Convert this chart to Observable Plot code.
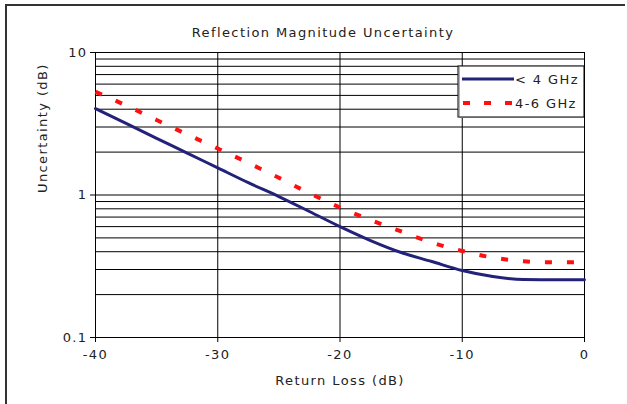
<!DOCTYPE html>
<html>
<head>
<meta charset="utf-8">
<script src="https://cdn.jsdelivr.net/npm/d3@7"></script>
<script src="https://cdn.jsdelivr.net/npm/@observablehq/plot@0.6"></script>
<style>
  html, body { margin: 0; padding: 0; background: #fff; }
  #wrap { position: relative; width: 627px; height: 404px; overflow: hidden; }
  #border { position: absolute; left: 5px; top: 4px; width: 620px; height: 420px;
            border-top: 2px solid #333; border-left: 2px solid #333; box-sizing: border-box; pointer-events: none; }
  #wrap svg text { letter-spacing: 1.4px; }
</style>
</head>
<body>
<div id="wrap"><div id="border"></div></div>
<script>
const returnLoss = [-40, -37.5, -35, -32.5, -30, -27.5, -25, -22.5, -20, -17.5, -15, -12.5, -10, -7.5, -5, -2.5, 0];
const below4GHz = [4.04, 3.18, 2.50, 1.97, 1.55, 1.22, 0.975, 0.766, 0.60, 0.479, 0.395, 0.3415, 0.2953, 0.268, 0.2553, 0.2545, 0.2541];
const band4to6GHz = [5.3, 4.25, 3.36, 2.66, 2.12, 1.68, 1.32, 1.03, 0.817, 0.668, 0.555, 0.464, 0.405, 0.364, 0.343, 0.337, 0.337];
const seriesNames = ["< 4 GHz", "4-6 GHz"];
const xTicks = [-40, -30, -20, -10, 0];
const yTicks = [0.1, 1, 10];
const yGrid = [0.1,0.2,0.3,0.4,0.5,0.6,0.7,0.8,0.9,1,2,3,4,5,6,7,8,9,10];
const titleText = "Reflection Magnitude Uncertainty";
const xLabel = "Return Loss (dB)";
const yLabel = "Uncertainty (dB)";

const blueData = returnLoss.map((x, i) => ({x, y: below4GHz[i]}));
const redData = returnLoss.map((x, i) => ({x, y: band4to6GHz[i]}));

const FONT = "DejaVu Sans, Verdana, sans-serif";
const BLUE = "#22227a";
const RED = "#ff1010";

const chart = Plot.plot({
  width: 627,
  height: 404,
  marginLeft: 95,
  marginRight: 43,
  marginTop: 52,
  marginBottom: 67,
  style: {fontFamily: FONT, fontSize: "13px", color: "#222", background: "transparent", overflow: "visible"},
  x: {domain: [-40, 0]},
  y: {type: "log", domain: [0.1, 10]},
  marks: [
    Plot.gridY(yGrid, {stroke: "#000", strokeOpacity: 1, strokeWidth: 1}),
    Plot.gridX(xTicks, {stroke: "#000", strokeOpacity: 1, strokeWidth: 1}),
    Plot.frame({stroke: "#000", strokeWidth: 1}),
    Plot.axisX(xTicks, {tickSize: 5, tickPadding: 7, stroke: "#000", fill: "#222", fontSize: 13, tickFormat: d => String(d), label: null}),
    Plot.axisY(yTicks, {tickSize: 5, tickPadding: 3, stroke: "#000", fill: "#222", fontSize: 13, tickFormat: d => String(d), label: null}),
    Plot.line(blueData, {x: "x", y: "y", stroke: BLUE, strokeWidth: 3, curve: "monotone-x"}),
    Plot.line(redData, {x: "x", y: "y", stroke: RED, strokeWidth: 4, strokeDasharray: "7,15", strokeLinecap: "butt", curve: "monotone-x"}),
    Plot.text([titleText], {frameAnchor: "top", lineAnchor: "middle", dx: -17, dy: -20, fontSize: 13, fill: "#222"}),
    Plot.text([xLabel], {frameAnchor: "bottom", lineAnchor: "middle", dy: 43, fontSize: 13, fill: "#222"}),
    Plot.text([yLabel], {frameAnchor: "left", lineAnchor: "middle", dx: -53, dy: -2, rotate: -90, fontSize: 13, fill: "#222"})
  ]
});
document.getElementById("wrap").insertBefore(chart, document.getElementById("border"));

// legend
const svg = d3.select(chart);
const lg = svg.append("g").attr("font-family", FONT).attr("font-size", 13).attr("fill", "#222").attr("text-anchor", "start");
lg.append("rect").attr("x", 458).attr("y", 66).attr("width", 126).attr("height", 51)
  .attr("fill", "#fff").attr("stroke", "#000").attr("stroke-width", 1);
lg.append("line").attr("x1", 459).attr("x2", 459).attr("y1", 67).attr("y2", 117).attr("stroke", "#666").attr("stroke-width", 1);
lg.append("line").attr("x1", 459).attr("x2", 584).attr("y1", 117.5).attr("y2", 117.5).attr("stroke", "#666").attr("stroke-width", 1);
lg.append("line").attr("x1", 462).attr("x2", 514).attr("y1", 79).attr("y2", 79).attr("stroke", BLUE).attr("stroke-width", 3);
lg.append("line").attr("x1", 463).attr("x2", 514).attr("y1", 103).attr("y2", 103).attr("stroke", RED).attr("stroke-width", 4).attr("stroke-dasharray", "7,14");
lg.append("text").attr("x", 515).attr("y", 79).attr("dy", "0.36em").text(seriesNames[0]);
lg.append("text").attr("x", 515).attr("y", 103).attr("dy", "0.36em").text(seriesNames[1]);
</script>
</body>
</html>
